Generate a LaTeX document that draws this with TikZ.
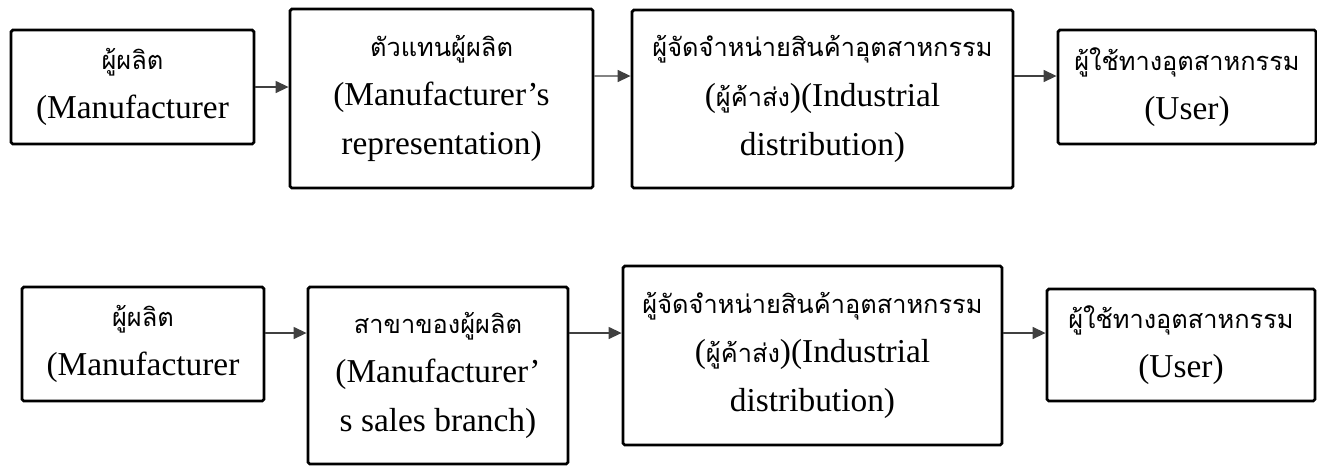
\documentclass[tikz,border=0pt]{standalone}
\usepackage{fontspec}
\setmainfont{Liberation Serif}
\newfontfamily\thaifont[Script=Thai,Scale=0.76]{Loma}
\usetikzlibrary{arrows.meta}

\begin{document}
\begin{tikzpicture}[
    box/.style={draw, line width=1.6pt, rectangle, rounded corners=1pt, fill=white, align=center, inner sep=0pt, font=\fontsize{19}{28}\selectfont},
    arr/.style={-{Triangle[length=0.26cm, width=0.24cm]}, line width=0.8pt, black!75}
]
    \useasboundingbox (0,0) rectangle (26.34,-9.34);

    % first channel
    \node[box, minimum width=4.86cm, minimum height=2.28cm] (maker) at (2.65,-1.74) {{\thaifont ผู้ผลิต}\\(Manufacturer};
    \node[box, minimum width=6.06cm, minimum height=3.58cm] (agent) at (8.83,-1.97) {{\thaifont ตัวแทนผู้ผลิต}\\(Manufacturer’s\\representation)};
    \node[box, minimum width=7.62cm, minimum height=3.56cm] (distrib) at (16.45,-1.98) {{\thaifont ผู้จัดจำหน่ายสินค้าอุตสาหกรรม}\\({\thaifont ผู้ค้าส่ง})(Industrial\\distribution)};
    \node[box, minimum width=5.16cm, minimum height=2.28cm] (user) at (23.74,-1.74) {{\thaifont ผู้ใช้ทางอุตสาหกรรม}\\(User)};

    \draw[arr] (maker.east) -- (maker.east -| agent.west);
    \draw[arr] ([yshift=0.45cm]agent.east) -- ([yshift=0.46cm]distrib.west);
    \draw[arr] ([yshift=0.46cm]distrib.east) -- ([yshift=0.46cm]distrib.east -| user.west);

    % second channel
    \node[box, minimum width=4.84cm, minimum height=2.28cm] (maker2) at (2.86,-6.88) {{\thaifont ผู้ผลิต}\\(Manufacturer};
    \node[box, minimum width=5.2cm, minimum height=3.54cm] (branch) at (8.76,-7.51) {{\thaifont สาขาของผู้ผลิต}\\(Manufacturer’\\s sales branch)};
    \node[box, minimum width=7.58cm, minimum height=3.58cm] (distrib2) at (16.25,-7.11) {{\thaifont ผู้จัดจำหน่ายสินค้าอุตสาหกรรม}\\({\thaifont ผู้ค้าส่ง})(Industrial\\distribution)};
    \node[box, minimum width=5.36cm, minimum height=2.24cm] (user2) at (23.62,-6.9) {{\thaifont ผู้ใช้ทางอุตสาหกรรม}\\(User)};

    \draw[arr] ([yshift=0.22cm]maker2.east) -- ([yshift=0.22cm]maker2.east -| branch.west);
    \draw[arr] ([yshift=0.22cm]maker2.east -| branch.east) -- ([yshift=0.22cm]maker2.east -| distrib2.west);
    \draw[arr] ([yshift=0.22cm]maker2.east -| distrib2.east) -- ([yshift=0.22cm]maker2.east -| user2.west);
\end{tikzpicture}
\end{document}
